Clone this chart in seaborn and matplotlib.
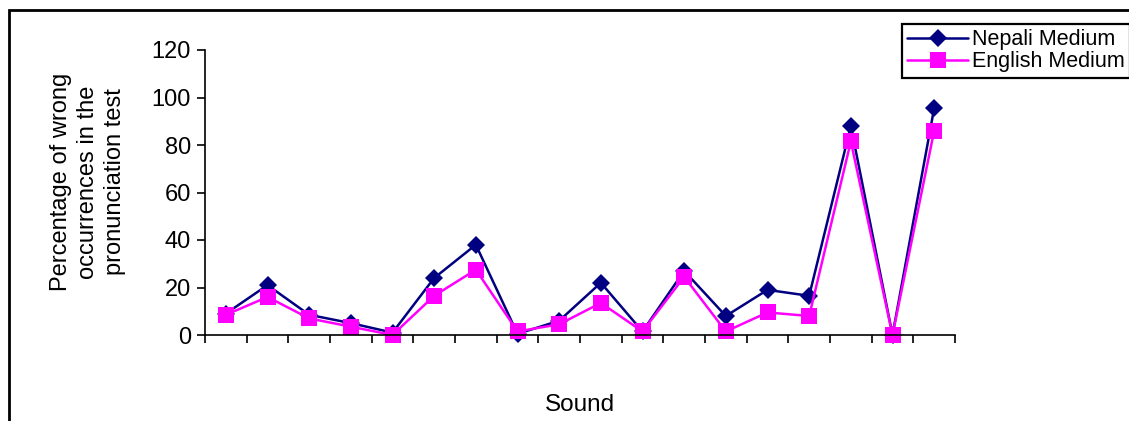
import numpy as np
import pandas as pd
import seaborn as sns
import matplotlib.pyplot as plt
from matplotlib.patches import Rectangle

# sounds tested (labels are not printed on the original chart)
sounds = list(range(1, 19))
nepali = [9, 21, 8.5, 5, 1, 24, 38, 0.5, 6, 22, 1.5, 27, 8, 19, 16.5, 88, 0, 95.5]
english = [8.5, 16, 7, 3.5, 0, 16.5, 27.5, 1.5, 4.5, 13.5, 1.5, 24.5, 1.5, 9.5, 8, 81.5, 0, 86]

df = pd.DataFrame({'Sound': sounds, 'Nepali Medium': nepali, 'English Medium': english})
df['pos'] = np.arange(len(df))

sns.set_style('ticks')
plt.rcParams['font.family'] = ['Liberation Sans', 'DejaVu Sans']
plt.rcParams['text.color'] = 'black'

W, H = 1129, 421
fig = plt.figure(figsize=(W / 100, H / 100), dpi=100)
ax = fig.add_axes([205 / W, 1 - 335 / H, 750 / W, 285 / H])

sns.lineplot(data=df, x='pos', y='Nepali Medium', ax=ax, color='#000080', linewidth=1.8,
             marker='D', markersize=9.5, markeredgewidth=0, clip_on=False, label='Nepali Medium')
sns.lineplot(data=df, x='pos', y='English Medium', ax=ax, color='#FF00FF', linewidth=1.8,
             marker='s', markersize=11.5, markeredgewidth=0, clip_on=False, label='English Medium')

ax.set_xlim(-0.5, len(df) - 0.5)
ax.set_ylim(0, 120)
ax.set_yticks(range(0, 121, 20))
ax.set_xticks(np.arange(-0.5, len(df), 1))
ax.set_xticklabels([])
ax.tick_params(axis='both', direction='out', length=6, width=1.2, colors='black',
               labelcolor='black', labelsize=17)
ax.tick_params(axis='y', pad=4)
for s in ['top', 'right']:
    ax.spines[s].set_visible(False)
for s in ['left', 'bottom']:
    ax.spines[s].set_linewidth(1.2)
    ax.spines[s].set_color('black')
ax.set_xlabel('')
ax.set_ylabel('')

handles, labels = ax.get_legend_handles_labels()
ax.get_legend().remove()
leg = fig.legend(handles, labels, loc='upper left', bbox_to_anchor=(902 / W, 1 - 24 / H),
                 fontsize=15.5, frameon=True, fancybox=False, framealpha=1, edgecolor='black',
                 borderpad=0.25, labelspacing=0.05, handlelength=2.8, handletextpad=0.2,
                 borderaxespad=0, numpoints=1)
leg.get_frame().set_linewidth(1.6)
for t in leg.get_texts():
    t.set_color('black')

fig.text(580 / W, 1 - 405 / H, 'Sound', ha='center', va='center', fontsize=17.5, color='black')
fig.text(88 / W, 1 - 182 / H, 'Percentage of wrong\noccurrences in the\npronunciation test',
         ha='center', va='center', rotation=90, fontsize=17, linespacing=1.3, color='black')

# outer chart-area border (cut off at right and bottom)
fig.add_artist(Rectangle((9 / W, -0.2), 1.5, 1.2 - 10 / H, transform=fig.transFigure,
                         fill=False, edgecolor='black', linewidth=2))

fig.savefig('out.png', dpi=100)
